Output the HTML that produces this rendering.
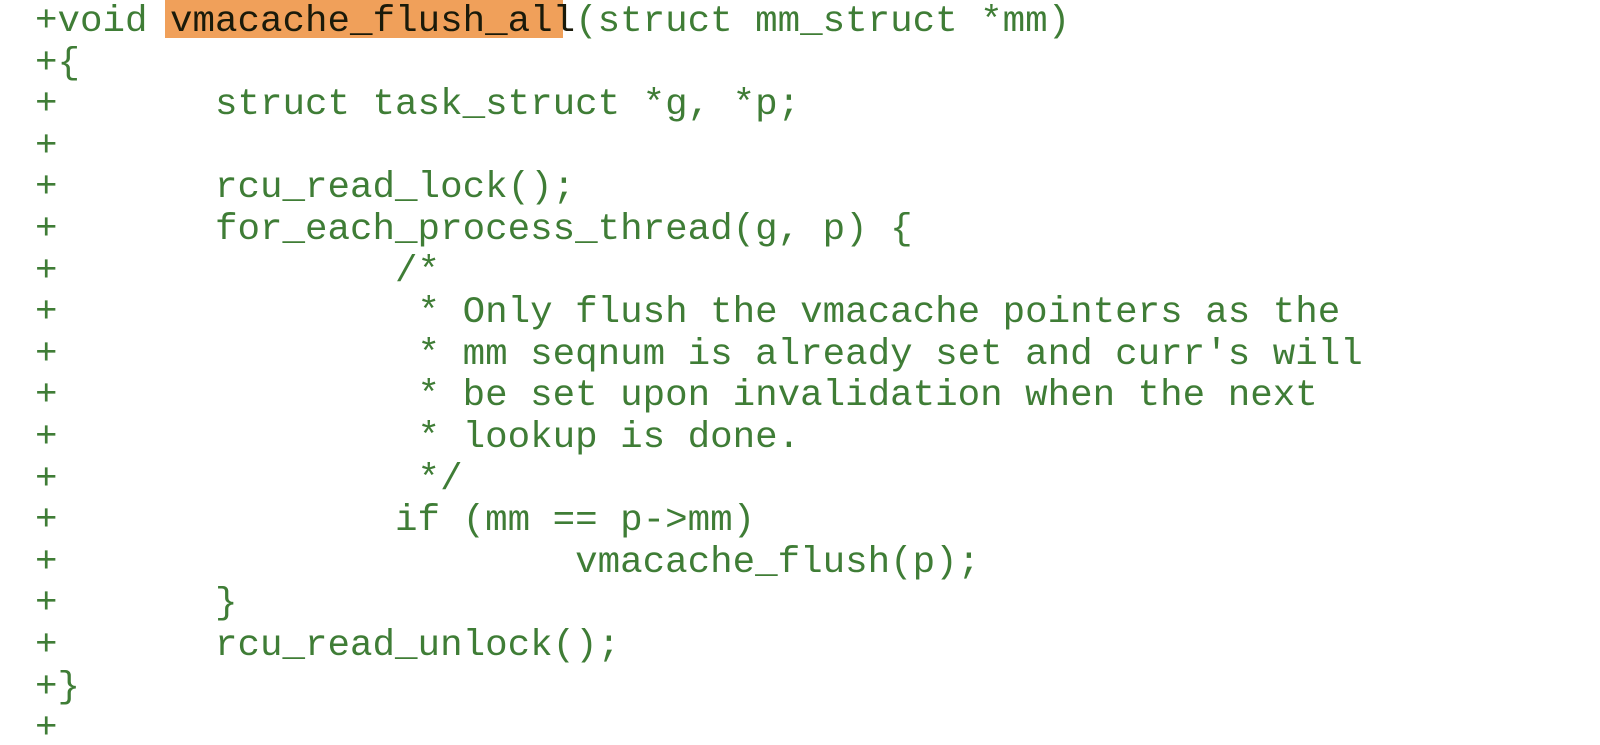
<!DOCTYPE html>
<html><head><style>
html,body{margin:0;padding:0;background:#fff;width:1600px;height:745px;overflow:hidden;position:relative}
.l{position:absolute;left:35px;height:41px;line-height:41px;margin:0;white-space:pre;font-family:"Liberation Mono",monospace;font-size:37.5px;color:#3f7d36;}
.hl{position:absolute;left:165px;top:0;width:398px;height:38px;background:#f0a05a;}
.k{color:#1a1a0a;}
</style></head><body>
<div class="hl"></div>
<div class="l" style="top:2px">+void <span class="k">vmacache_flush_all</span>(struct mm_struct *mm)</div>
<div class="l" style="top:44px">+{</div>
<div class="l" style="top:85px">+       struct task_struct *g, *p;</div>
<div class="l" style="top:127px">+</div>
<div class="l" style="top:168px">+       rcu_read_lock();</div>
<div class="l" style="top:210px">+       for_each_process_thread(g, p) {</div>
<div class="l" style="top:252px">+               /*</div>
<div class="l" style="top:293px">+                * Only flush the vmacache pointers as the</div>
<div class="l" style="top:335px">+                * mm seqnum is already set and curr's will</div>
<div class="l" style="top:376px">+                * be set upon invalidation when the next</div>
<div class="l" style="top:418px">+                * lookup is done.</div>
<div class="l" style="top:460px">+                */</div>
<div class="l" style="top:501px">+               if (mm == p-&gt;mm)</div>
<div class="l" style="top:543px">+                       vmacache_flush(p);</div>
<div class="l" style="top:584px">+       }</div>
<div class="l" style="top:626px">+       rcu_read_unlock();</div>
<div class="l" style="top:668px">+}</div>
<div class="l" style="top:709px">+</div>
</body></html>
